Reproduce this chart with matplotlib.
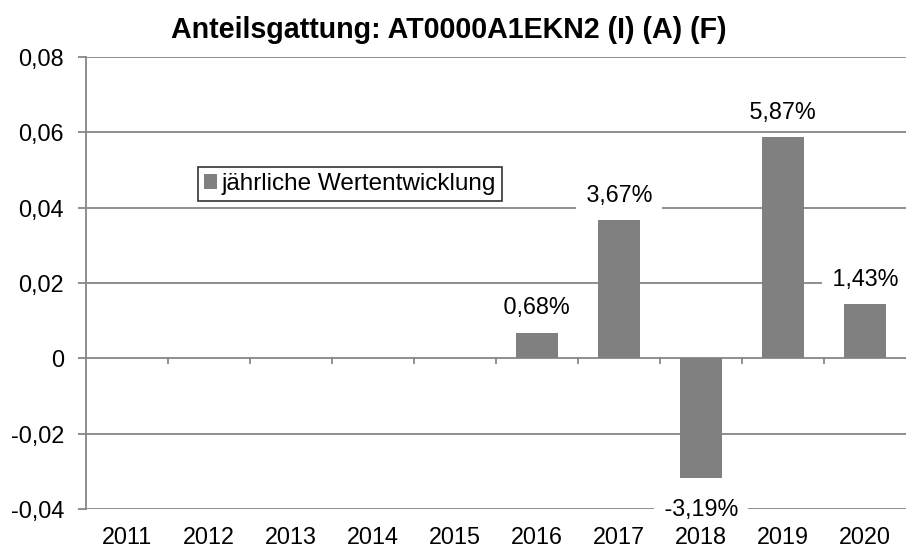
import matplotlib
matplotlib.use("Agg")
import matplotlib.pyplot as plt
from matplotlib.ticker import FixedLocator
from matplotlib.patches import Patch

years = ["2011", "2012", "2013", "2014", "2015", "2016", "2017", "2018", "2019", "2020"]
values = [None, None, None, None, None, 0.0068, 0.0367, -0.0319, 0.0587, 0.0143]
labels = ["", "", "", "", "", "0,68%", "3,67%", "-3,19%", "5,87%", "1,43%"]
yticks = [-0.04, -0.02, 0, 0.02, 0.04, 0.06, 0.08]
ytick_labels = ["-0,04", "-0,02", "0", "0,02", "0,04", "0,06", "0,08"]

FS = 16.8
plt.rcParams['font.family'] = ['Liberation Sans', 'DejaVu Sans']
fig = plt.figure(figsize=(9.06, 5.47), dpi=100)
ax = fig.add_axes([86/906, 1 - 509/547, (906 - 86)/906, (509 - 57)/547])

grid_c = "#868686"
bar_c = "#808080"
xs = list(range(len(years)))
for i, v in enumerate(values):
    if v is None:
        continue
    ax.bar(i, v, width=0.51, color=bar_c, zorder=3)
    off = 18 if v >= 0 else -22
    ax.annotate(" " + labels[i] + " ", (i, v), xytext=(0, off), textcoords="offset points",
                ha="center", va="center", fontsize=FS, zorder=5,
                bbox=dict(facecolor="white", edgecolor="none", pad=2.5))

ax.set_xlim(-0.5, len(years) - 0.5)
ax.set_ylim(-0.04, 0.08)
ax.yaxis.set_major_locator(FixedLocator(yticks))
ax.set_yticklabels(ytick_labels)
for y in yticks:
    ax.axhline(y, color=grid_c, lw=1.3, zorder=1)

ax.set_xticks(xs)
ax.set_xticklabels(years)
ax.tick_params(axis="x", length=0, pad=12, labelsize=FS)
ax.tick_params(axis="y", length=6, width=1.3, color=grid_c, labelsize=FS, pad=10)
for b in range(1, len(years)):
    ax.plot([b - 0.5, b - 0.5], [0, -0.0013], color=grid_c, lw=1.3, zorder=2, clip_on=False)

for s in ["top", "right", "bottom"]:
    ax.spines[s].set_visible(False)
ax.spines["left"].set_color(grid_c)
ax.spines["left"].set_linewidth(1.3)

fig.text(449/906, 1 - 30/547, "Anteilsgattung: AT0000A1EKN2 (I) (A) (F)",
         ha="center", va="center", fontsize=20.6, fontweight="bold")

leg = ax.legend([Patch(facecolor=bar_c)], ["jährliche Wertentwicklung"],
                loc="upper left", bbox_to_anchor=((198-86)/820, 1 - (167-57)/452),
                fontsize=17.5, frameon=True, fancybox=False, edgecolor="black",
                handlelength=0.55, handleheight=0.55, handletextpad=0.15,
                borderpad=0.25, borderaxespad=0)
leg.get_frame().set_linewidth(1.2)
leg.set_zorder(6)

fig.savefig("out.png", dpi=100)
